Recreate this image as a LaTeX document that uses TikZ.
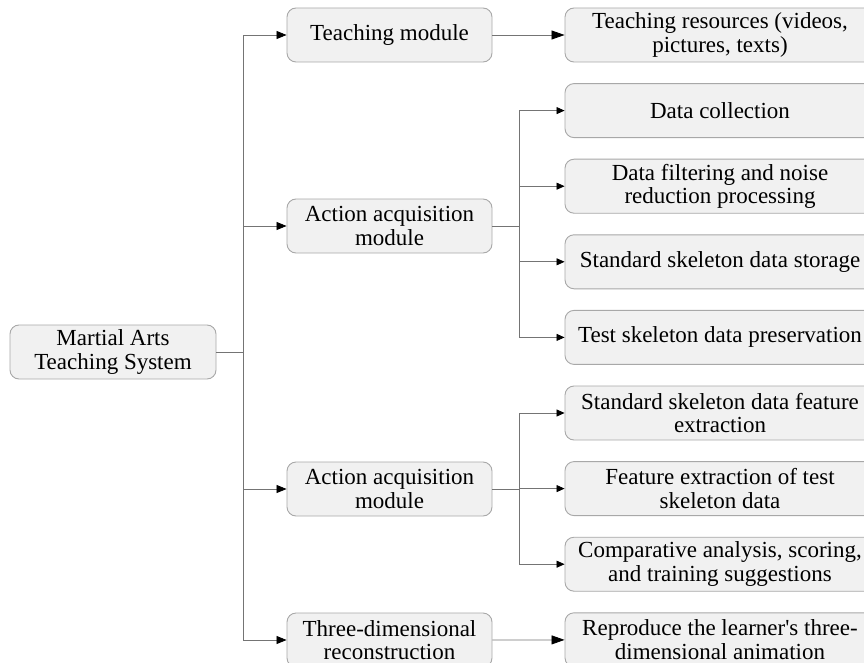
\documentclass[tikz,border=0pt]{standalone}
\usepackage{xcolor}
\usepackage{fontspec}
\setmainfont{Liberation Serif}
\usetikzlibrary{positioning,arrows.meta}
\definecolor{boxfill}{HTML}{F1F1F1}
\definecolor{boxline}{HTML}{A8A8A8}
\definecolor{linkgray}{HTML}{747474}

\begin{document}
\begin{tikzpicture}[
    x=1pt, y=-1pt,
    box/.style={rectangle, rounded corners=9pt, draw=boxline, fill=boxfill, line width=0.9pt, align=center, minimum height=54pt, inner sep=3pt, font=\fontsize{23}{23.5}\selectfont},
    mid/.style={box, minimum width=205pt},
    leaf/.style={box, minimum width=310pt},
    link/.style={draw=linkgray, line width=0.8pt},
    arr/.style={link, -{Triangle[length=8pt, width=7pt, color=black]}},
    trunkarr/.style={link, -{Triangle[length=10pt, width=8pt, color=black]}},
    bigarr/.style={link, -{Triangle[length=13pt, width=9pt, color=black]}}
]
    \useasboundingbox (0,0) rectangle (864,663);

    \node[box, minimum width=206pt] (root) at (113,352) {Martial Arts\\Teaching System};

    \node[mid] (teach) at (389.5,35) {Teaching module};
    \node[mid] (acq) at (389.5,226) {Action acquisition\\module};
    \node[mid] (ana) at (389.5,489) {Action acquisition\\module};
    \node[mid] (rec) at (389.5,640) {Three-dimensional\\reconstruction};

    \foreach \i/\txt in {1/{Teaching resources (videos,\\pictures, texts)}, 2/Data collection, 3/{Data filtering and noise\\reduction processing}, 4/Standard skeleton data storage, 5/Test skeleton data preservation, 6/{Standard skeleton data feature\\extraction}, 7/{Feature extraction of test\\skeleton data}, 8/{Comparative analysis, scoring,\\and training suggestions}, 9/{Reproduce the learner\textquotesingle s three-\\dimensional animation}}
        \node[leaf] (r\i) at (720, {35+75.6*(\i-1)}) {\txt};

    % forks
    \coordinate (trunk) at (243,352);
    \coordinate (fork1) at (519,226);
    \coordinate (fork2) at (519,489);

    \foreach \m in {teach,acq,ana,rec} \draw[trunkarr] (root.east) -- (trunk) |- (\m);
    \draw[bigarr] (teach) -- (r1);
    \foreach \r in {r2,r3,r4,r5} \draw[arr] (acq.east) -- (fork1) |- (\r);
    \foreach \r in {r6,r7,r8} \draw[arr] (ana.east) -- (fork2) |- (\r);
    \draw[bigarr] (rec) -- (r9);
\end{tikzpicture}
\end{document}
